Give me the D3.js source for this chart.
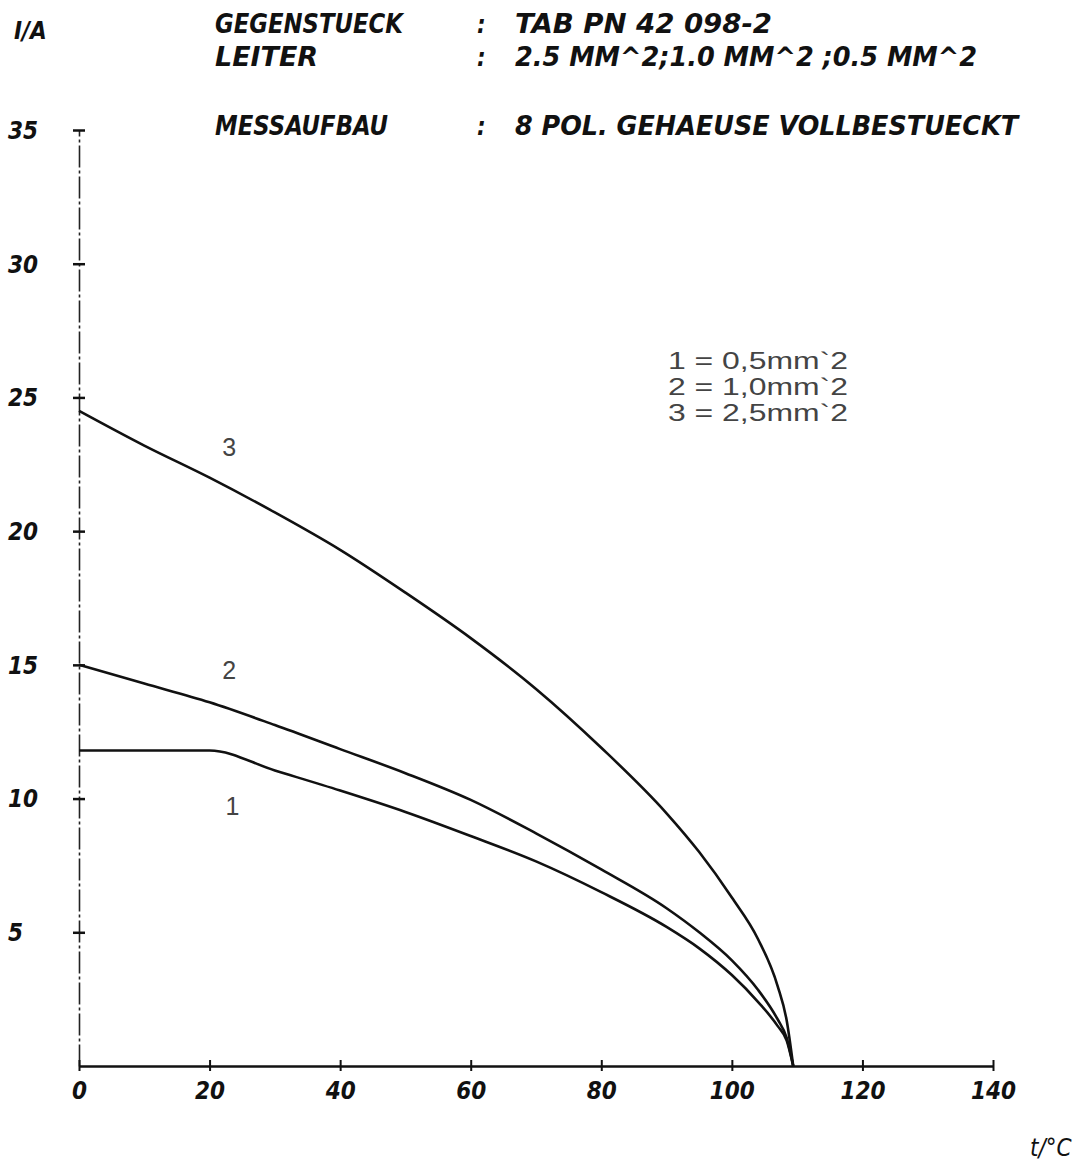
<html>
<head>
  <meta charset="utf-8">
  <title>I/A vs t</title>
  <script src="https://d3js.org/d3.v7.min.js"></script>
</head>

<style>
  body { margin: 0; background: #fff; }
  .plot { font-family: 'Liberation Sans Narrow', 'DejaVu Sans Condensed', sans-serif; font-weight: 700; font-style: italic; fill: #111; }
  .thin { font-family: 'Liberation Sans', Arial, sans-serif; font-weight: 400; fill: #444; }
</style>

<body>
  <div class="chart"></div>

  <script>
    // temperatures (deg C) and current (A) for each conductor size
    var temps  = [0, 10, 20, 30, 40, 50, 60, 70, 80, 90, 95, 100, 104, 107, 108.4, 109.4];
    var curve1 = [11.8, 11.8, 11.8, 11.05, 10.3, 9.5, 8.6, 7.65, 6.5, 5.2, 4.4, 3.4, 2.4, 1.5, 0.95, 0];
    var curve2 = [15.0, 14.3, 13.6, 12.75, 11.85, 10.95, 9.95, 8.7, 7.35, 5.9, 5.0, 3.95, 2.85, 1.75, 1.05, 0];
    var curve3 = [24.5, 23.2, 22.0, 20.7, 19.3, 17.7, 16.0, 14.1, 11.9, 9.45, 8.0, 6.3, 4.75, 3.0, 1.7, 0];

    var xTicks = [0, 20, 40, 60, 80, 100, 120, 140];
    var yTicks = [5, 10, 15, 20, 25, 30, 35];

    var curveNames = ["1", "2", "3"];
    var legendLines = ["1 = 0,5mm`2", "2 = 1,0mm`2", "3 = 2,5mm`2"];

    var margin = {top: 130, right: 81, bottom: 103, left: 79};
    var width = 1074 - margin.left - margin.right;
    var height = 1169 - margin.top - margin.bottom;

    var svg = d3.select('.chart')
      .append('svg')
        .attr('width', 1074)
        .attr('height', 1169);

    var x = d3.scaleLinear().domain([0, 140]).range([0, width]);
    var y = d3.scaleLinear().domain([0, 35]).range([height, 0]);

    var g = svg.append("g")
      .attr("transform", "translate(" + margin.left + "," + margin.top + ")");

    // header block
    var header = [
      {label: "GEGENSTUECK", value: "TAB PN 42 098-2", y: 33, lw: 188, vw: 257},
      {label: "LEITER", value: "2.5 MM^2;1.0 MM^2 ;0.5 MM^2", y: 66, lw: 103, vw: 462},
      {label: "MESSAUFBAU", value: "8 POL. GEHAEUSE VOLLBESTUECKT", y: 135, lw: 173, vw: 503}
    ];
    header.forEach(function(h) {
      svg.append("text").attr("class", "plot")
        .attr("x", 215).attr("y", h.y)
        .style("font-size", "27px")
        .attr("textLength", h.lw).attr("lengthAdjust", "spacingAndGlyphs")
        .text(h.label);
      svg.append("text").attr("class", "plot")
        .attr("x", 477).attr("y", h.y)
        .style("font-size", "24px")
        .text(":");
      svg.append("text").attr("class", "plot")
        .attr("x", 515).attr("y", h.y)
        .style("font-size", "27px")
        .attr("textLength", h.vw).attr("lengthAdjust", "spacingAndGlyphs")
        .text(h.value);
    });

    // y axis title
    svg.append("text").attr("class", "plot")
      .attr("x", 14).attr("y", 39)
      .style("font-size", "24px")
      .text("I/A");

    // x axis title
    svg.append("text").attr("class", "plot")
      .attr("x", 1030).attr("y", 1156)
      .style("font-size", "24px")
      .style("font-weight", "400")
      .text("t/\u00B0C");

    // axes
    var yAxis = g.append("g")
      .call(d3.axisLeft(y).tickValues(yTicks).tickSize(0).tickFormat(d3.format("d")));
    yAxis.select(".domain")
      .attr("stroke", "#222").attr("stroke-width", 1.6)
      .attr("stroke-dasharray", "22,3,3,3");
    yAxis.selectAll(".tick line")
      .attr("x1", -6).attr("x2", 6)
      .attr("stroke", "#111").attr("stroke-width", 2.5);
    yAxis.selectAll(".tick text")
      .attr("class", "plot")
      .attr("x", 8 - margin.left)
      .attr("dy", "0.35em")
      .attr("text-anchor", "start")
      .style("font-size", "24px");

    var xAxis = g.append("g")
      .attr("transform", "translate(0," + height + ")")
      .call(d3.axisBottom(x).tickValues(xTicks).tickSize(0).tickFormat(d3.format("d")));
    xAxis.select(".domain")
      .attr("stroke", "#111").attr("stroke-width", 2.5);
    xAxis.selectAll(".tick line")
      .attr("y1", -6).attr("y2", 5)
      .attr("stroke", "#111").attr("stroke-width", 2);
    xAxis.selectAll(".tick text")
      .attr("class", "plot")
      .attr("y", 25)
      .attr("dy", "0.35em")
      .style("font-size", "24px");

    // curves
    var line = d3.line()
      .x(function(d) { return x(d[0]); })
      .y(function(d) { return y(d[1]); })
      .curve(d3.curveMonotoneX);

    [curve1, curve2, curve3].forEach(function(c) {
      g.append("path")
        .datum(temps.map(function(t, i) { return [t, c[i]]; }))
        .attr("fill", "none")
        .attr("stroke", "#111")
        .attr("stroke-width", 2.6)
        .attr("stroke-linejoin", "round")
        .attr("d", line);
    });

    // curve numbers
    var numPos = [[23.5, 9.7], [23, 14.8], [23, 23.15]];
    curveNames.forEach(function(n, i) {
      g.append("text").attr("class", "thin")
        .attr("x", x(numPos[i][0])).attr("y", y(numPos[i][1]))
        .attr("text-anchor", "middle")
        .attr("dy", "0.35em")
        .style("font-size", "25px")
        .text(n);
    });

    // legend
    legendLines.forEach(function(t, i) {
      svg.append("text").attr("class", "thin")
        .attr("x", 668).attr("y", 369 + i * 26)
        .style("font-size", "24px")
        .attr("textLength", 180).attr("lengthAdjust", "spacingAndGlyphs")
        .text(t);
    });
  </script>

</body>
</html>
